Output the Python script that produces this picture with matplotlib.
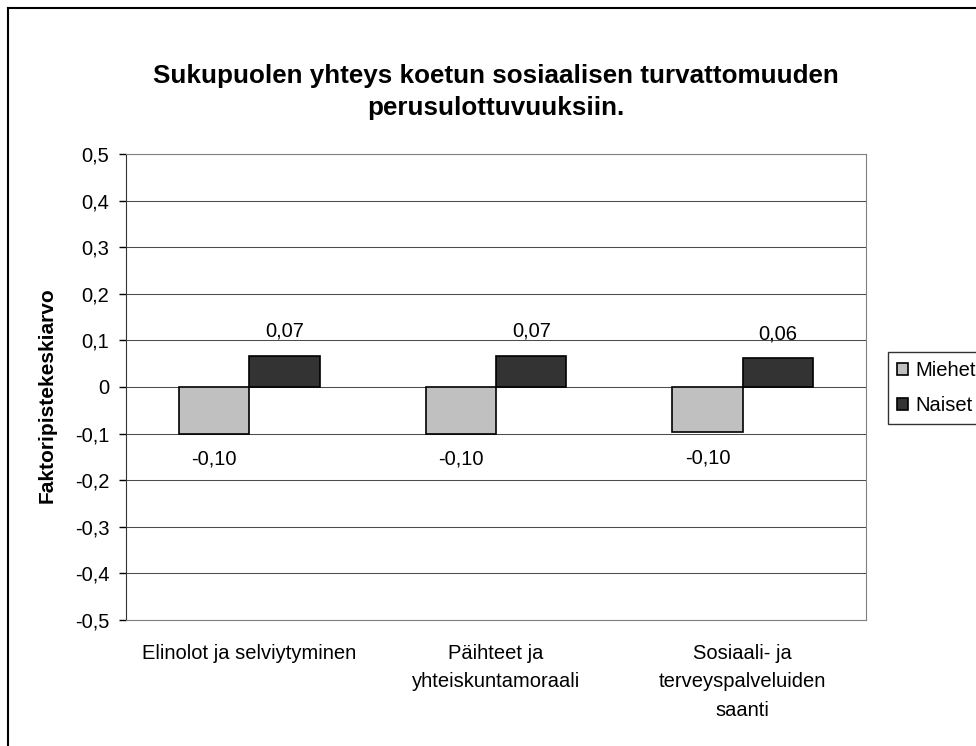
import matplotlib
matplotlib.use("Agg")
import matplotlib.pyplot as plt
import numpy as np
from matplotlib.lines import Line2D

categories = ["Elinolot ja selviytyminen", "Päihteet ja\nyhteiskuntamoraali", "Sosiaali- ja\nterveyspalveluiden\nsaanti"]
series_names = ["Miehet", "Naiset"]
miehet = [-0.100, -0.100, -0.097]
naiset = [0.067, 0.067, 0.062]
miehet_labels = ["-0,10", "-0,10", "-0,10"]
naiset_labels = ["0,07", "0,07", "0,06"]
yticks = [0.5, 0.4, 0.3, 0.2, 0.1, 0, -0.1, -0.2, -0.3, -0.4, -0.5]
ytick_labels = ["0,5", "0,4", "0,3", "0,2", "0,1", "0", "-0,1", "-0,2", "-0,3", "-0,4", "-0,5"]

plt.rcParams['font.family'] = ['Liberation Sans', 'DejaVu Sans']

W, H = 976, 746
FS = 14.5
fig = plt.figure(figsize=(W/100, H/100), dpi=100)
ax = fig.add_axes([126/W, 1-620/H, (866-126)/W, (620-154)/H])

x = np.arange(len(categories))
bw = 1/3.5
ax.bar(x - bw/2, miehet, width=bw, color="#c0c0c0", edgecolor="black", linewidth=1.2, label=series_names[0], zorder=3)
ax.bar(x + bw/2, naiset, width=bw, color="#333333", edgecolor="black", linewidth=1.2, label=series_names[1], zorder=3)

for xi, v, lab in zip(x, miehet, miehet_labels):
    ax.text(xi - bw/2, v - 0.035, lab, ha="center", va="top", fontsize=FS, zorder=4)
for xi, v, lab in zip(x, naiset, naiset_labels):
    ax.text(xi + bw/2, v + 0.032, lab, ha="center", va="bottom", fontsize=FS, zorder=4)

ax.set_xlim(-0.5, len(categories) - 0.5)
ax.set_ylim(-0.5, 0.5)
ax.set_yticks(yticks)
ax.set_yticklabels(ytick_labels, fontsize=FS)
ax.yaxis.grid(True, color="#000000", linewidth=0.75, alpha=0.7, zorder=0)
ax.set_axisbelow(True)
ax.tick_params(axis="y", direction="out", length=5, width=1, pad=7, colors="black")
ax.set_xticks(x)
ax.set_xticklabels(categories, fontsize=FS, linespacing=1.65, va="top")
ax.tick_params(axis="x", length=0, pad=17)
for side in ["top", "right", "bottom"]:
    ax.spines[side].set_color("#808080")
ax.spines["left"].set_color("#333333")

ax.set_ylabel("Faktoripistekeskiarvo", fontsize=15, fontweight="bold")
ax.yaxis.label.set_va("center")
ax.yaxis.set_label_coords(47/W, 1-395/H, transform=fig.transFigure)

fig.text(496/W, 1-92/H, "Sukupuolen yhteys koetun sosiaalisen turvattomuuden\nperusulottuvuuksiin.",
         ha="center", va="center", fontsize=18.7, fontweight="bold", linespacing=1.4)

leg = fig.legend(loc="upper left", bbox_to_anchor=(888/W, 1-352/H), fontsize=FS, frameon=True,
                 fancybox=False, edgecolor="black", handlelength=0.55, handleheight=0.55,
                 handletextpad=0.35, borderpad=0.45, labelspacing=0.8, borderaxespad=0)
leg.get_frame().set_linewidth(1)

fig.add_artist(Line2D([8/W, 8/W], [0, 1-8/H], transform=fig.transFigure, color="black", linewidth=1.5))
fig.add_artist(Line2D([8/W, 1], [1-8/H, 1-8/H], transform=fig.transFigure, color="black", linewidth=1.5))

fig.savefig("out.png", dpi=100)
